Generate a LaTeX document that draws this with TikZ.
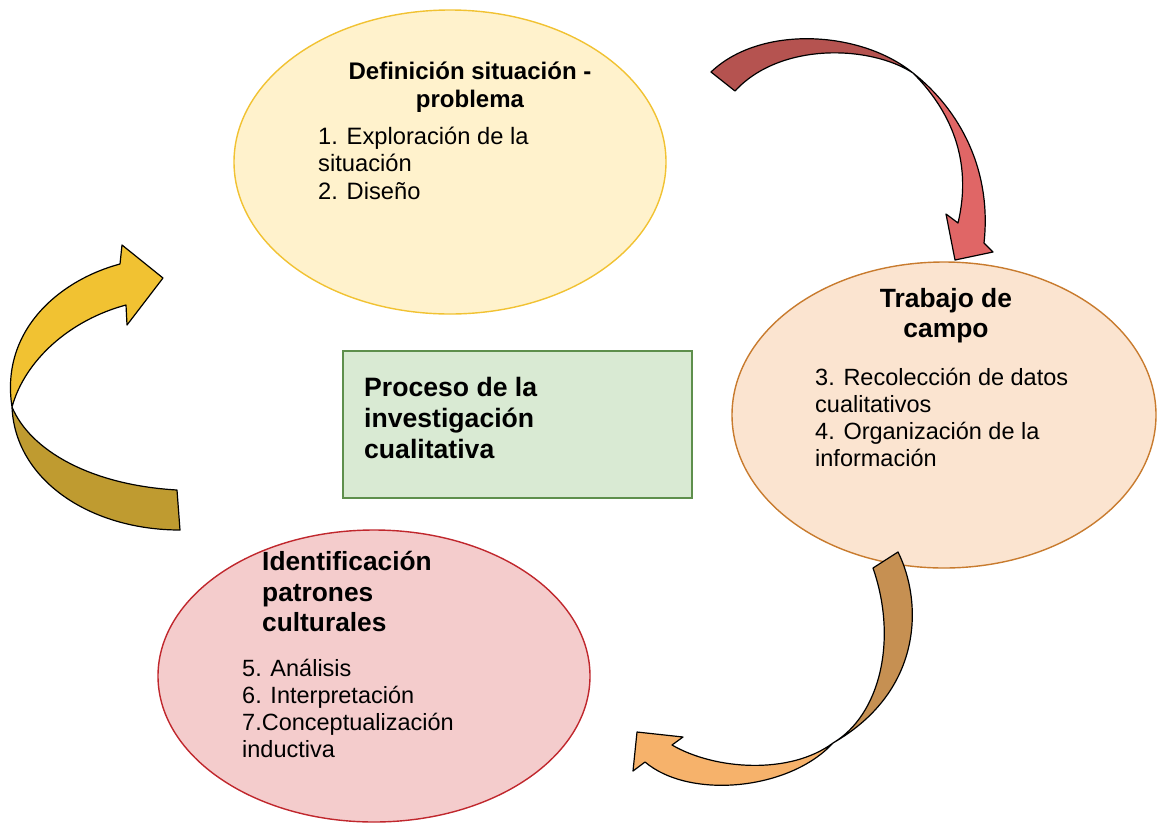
\documentclass[tikz,border=0pt]{standalone}
\usepackage{fontspec}
\setmainfont{Liberation Sans}
\usetikzlibrary{shapes.geometric}
\definecolor{ylfill}{HTML}{FFF2CC}
\definecolor{yldraw}{HTML}{F1C232}
\definecolor{orfill}{HTML}{FBE4D0}
\definecolor{ordraw}{HTML}{C87B2E}
\definecolor{pkfill}{HTML}{F4CCCC}
\definecolor{pkdraw}{HTML}{C0272D}
\definecolor{grfill}{HTML}{D9EAD3}
\definecolor{grdraw}{HTML}{5E8F4C}
\definecolor{reddark}{HTML}{B55350}
\definecolor{redlight}{HTML}{E06666}
\definecolor{browndark}{HTML}{C69052}
\definecolor{orangelight}{HTML}{F6B26B}
\definecolor{yeldark}{HTML}{BF9B30}
\definecolor{yellight}{HTML}{F1C232}
\tikzset{
  blob/.style={ellipse, line width=1.4pt, inner sep=0pt},
  ttl/.style={font=\fontsize{26.4}{30}\selectfont\bfseries, inner sep=0pt, align=left},
  bdy/.style={font=\fontsize{23.5}{27.3}\selectfont, inner sep=0pt, align=left},
  ribbon/.style={draw=black, line width=1.2pt, line join=round}
}
\begin{document}
\begin{tikzpicture}[x=1pt,y=-1pt]
\useasboundingbox (0,0) rectangle (1157,823);
% ellipses and box
\node[blob, draw=yldraw, fill=ylfill, minimum width=432pt, minimum height=304pt] (e1) at (450,162) {};
\node[blob, draw=ordraw, fill=orfill, minimum width=424pt, minimum height=306pt] (e2) at (944,415) {};
\node[blob, draw=pkdraw, fill=pkfill, minimum width=432pt, minimum height=292pt] (e3) at (374,676) {};
\node[draw=grdraw, fill=grfill, line width=1.2pt, minimum width=349pt, minimum height=147pt, inner sep=0pt] (box) at (517.5,424.5) {};
% texts
\node[ttl, align=center, anchor=north, font=\fontsize{24}{28}\selectfont\bfseries] (t1) at (470,62) {Definición situación -\\problema};
\node[bdy, anchor=north west, font=\fontsize{23.7}{27.5}\selectfont] (b1) at (318,126.5) {1. Exploración de la\\situación\\2. Diseño};
\node[ttl, align=center, anchor=north] (t2) at (946,288.5) {Trabajo de\\campo};
\node[bdy, anchor=north west] (b2) at (815,367.5) {3. Recolección de datos\\cualitativos\\4. Organización de la\\información};
\node[ttl, anchor=north west, font=\fontsize{26.3}{30.5}\selectfont\bfseries] (t3) at (262,551.5) {Identificación\\patrones\\culturales};
\node[bdy, anchor=north west] (b3) at (242,658.5) {5. Análisis\\6. Interpretación\\7.Conceptualización\\inductiva};
\node[ttl, anchor=north west, font=\fontsize{26.6}{31}\selectfont\bfseries] (t4) at (364,377.5) {Proceso de la\\investigación\\cualitativa};
% red arrow (top right)
\coordinate (rtw) at (913,73);
\fill[reddark] (711,72) .. controls (760,25) and (860,30) .. (rtw) .. controls (870,45) and (780,42) .. (735,91) -- cycle;
\fill[redlight] (rtw) .. controls (960,110) and (992,170) .. (984,243) -- (993,252) -- (955,260) -- (946,214) -- (958,223) .. controls (973,160) and (950,110) .. (rtw) -- cycle;
\draw[ribbon] (711,72) .. controls (760,25) and (860,30) .. (rtw) .. controls (960,110) and (992,170) .. (984,243) -- (993,252) -- (955,260) -- (946,214) -- (958,223) .. controls (973,160) and (950,110) .. (rtw) .. controls (870,45) and (780,42) .. (735,91) -- cycle;
% brown/orange arrow (bottom right)
\coordinate (btw) at (833,743);
\fill[browndark] (898,552) .. controls (922,600) and (925,690) .. (btw) .. controls (880,715) and (898,640) .. (873,568) -- cycle;
\fill[orangelight] (btw) .. controls (790,790) and (690,800) .. (645,762) -- (633,771) -- (637,732) -- (683,737) -- (672,745) .. controls (715,770) and (790,775) .. (btw) -- cycle;
\draw[ribbon] (898,552) .. controls (922,600) and (925,690) .. (btw) .. controls (790,790) and (690,800) .. (645,762) -- (633,771) -- (637,732) -- (683,737) -- (672,745) .. controls (715,770) and (790,775) .. (btw) .. controls (880,715) and (898,640) .. (873,568) -- cycle;
% yellow arrow (left)
\coordinate (ytw) at (12,407);
\fill[yeldark] (180,530) .. controls (90,530) and (15,480) .. (ytw) .. controls (30,450) and (90,485) .. (177,490) -- cycle;
\fill[yellight] (ytw) .. controls (0,330) and (60,280) .. (120,264) -- (122,245) -- (163,278) -- (127,325) -- (126,305) .. controls (70,320) and (25,360) .. (ytw) -- cycle;
\draw[ribbon] (180,530) .. controls (90,530) and (15,480) .. (ytw) .. controls (0,330) and (60,280) .. (120,264) -- (122,245) -- (163,278) -- (127,325) -- (126,305) .. controls (70,320) and (25,360) .. (ytw) .. controls (30,450) and (90,485) .. (177,490) -- cycle;
\end{tikzpicture}
\end{document}
